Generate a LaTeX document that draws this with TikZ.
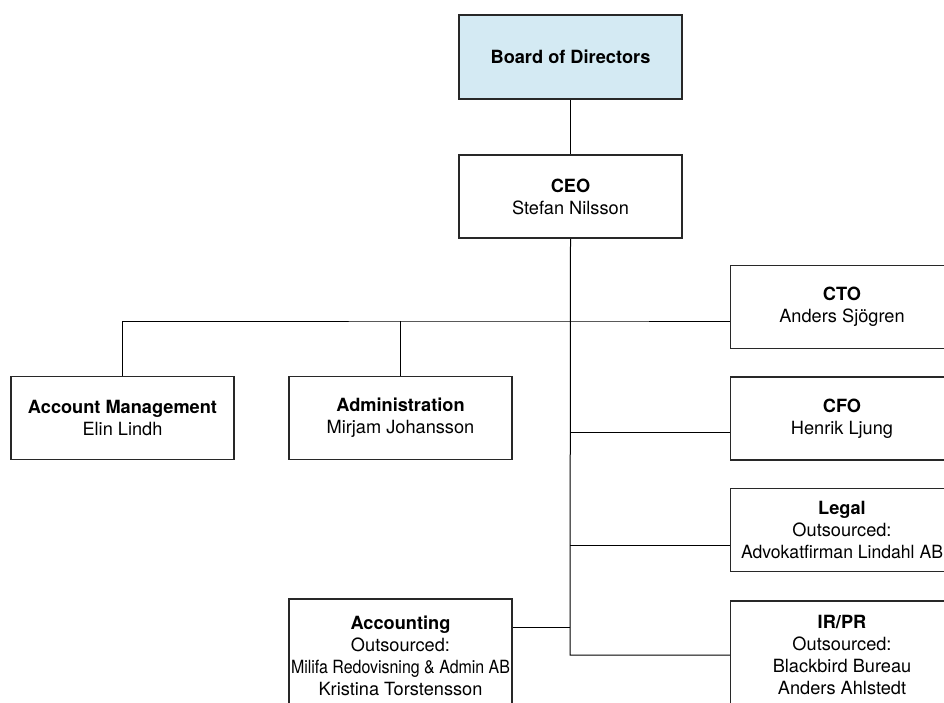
\documentclass[tikz,border=0pt]{standalone}
\usepackage{fontspec}
\setmainfont{TeX Gyre Heros}
\usepackage{graphicx}
\definecolor{boardblue}{RGB}{212,234,243}
\definecolor{edge}{RGB}{40,40,40}
\tikzset{
  orgbox/.style={draw=edge, line width=1.5pt, fill=white, minimum width=223pt, minimum height=83pt,
    align=center, inner sep=0pt, font=\fontsize{18.2}{22}\selectfont},
  link/.style={draw=black, line width=1pt}
}
\begin{document}
\begin{tikzpicture}[x=1pt,y=-1pt]
\useasboundingbox (0,0) rectangle (944,702);
\clip (0,0) rectangle (944,702);
\fill[white] (0,0) rectangle (944,702);
% nodes
\node[orgbox, fill=boardblue, minimum height=84pt] (board) at (570.5,57) {\textbf{Board of Directors}};
\node[orgbox] (ceo) at (570.5,196.5) {\textbf{CEO}\\Stefan Nilsson};
\node[orgbox] (cto) at (842,307) {\textbf{CTO}\\Anders Sjögren};
\node[orgbox] (cfo) at (842,418.5) {\textbf{CFO}\\Henrik Ljung};
\node[orgbox] (legal) at (842,530) {\textbf{Legal}\\Outsourced:\\\resizebox{202pt}{\height}{Advokatfirman Lindahl AB}};
\node[orgbox, minimum height=107pt] (irpr) at (842,654.5) {\textbf{IR/PR}\\Outsourced:\\Blackbird Bureau\\Anders Ahlstedt};
\node[orgbox] (am) at (122.5,418) {\textbf{Account Management}\\Elin Lindh};
\node[orgbox] (adm) at (400.5,418) {\textbf{Administration}\\Mirjam Johansson};
\node[orgbox, minimum height=114pt] (acc) at (400.5,656) {\textbf{Accounting}\\Outsourced:\\\resizebox{219pt}{\height}{Milifa Redovisning \& Admin AB}\\Kristina Torstensson};
% junction coordinates
\coordinate (jtop) at (570,321);
\coordinate (jcfo) at (570,432);
\coordinate (jlegal) at (570,545);
\coordinate (jacc) at (570,627);
\coordinate (jir) at (570,655);
% connectors
\draw[link] (board.south) -- (ceo.south |- board.south) -- (ceo.north);
\draw[link] (ceo.south) -- (jir) -- (jir -| irpr.west);
\draw[link] (am.north) |- (jtop) -- (jtop -| cto.west);
\draw[link] (adm.north) -- (adm.north |- jtop);
\draw[link] (jcfo) -- (jcfo -| cfo.west);
\draw[link] (jlegal) -- (jlegal -| legal.west);
\draw[link] (jacc) -- (jacc -| acc.east);
\end{tikzpicture}
\end{document}
